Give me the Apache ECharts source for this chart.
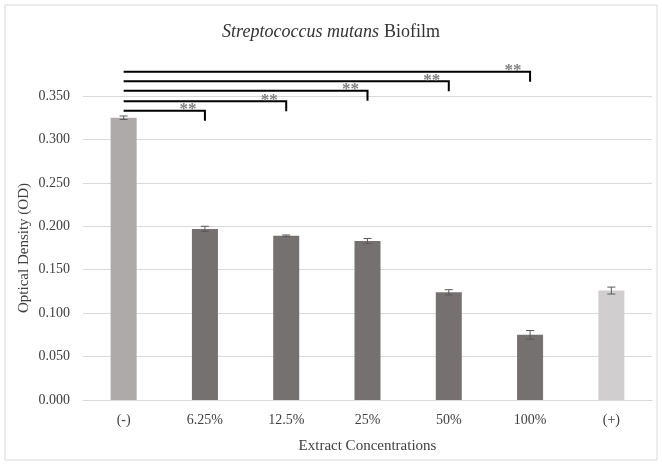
<!DOCTYPE html>
<html>
<head>
<meta charset="utf-8">
<script src="https://cdn.jsdelivr.net/npm/echarts@6/dist/echarts.min.js"></script>
<style>
  html, body { margin: 0; padding: 0; background: #fff; }
  #chart { width: 662px; height: 465px; }
</style>
</head>
<body>
<div id="chart"></div>
<script>
// data
const categories = ['(-)', '6.25%', '12.5%', '25%', '50%', '100%', '(+)'];
const odValues = [0.325, 0.197, 0.189, 0.183, 0.124, 0.075, 0.126];
const odErrors = [0.002, 0.003, 0.001, 0.003, 0.003, 0.005, 0.004];
const yTicks = [0, 0.05, 0.1, 0.15, 0.2, 0.25, 0.3, 0.35];
// significance brackets: compared category index, bracket height (OD), label
const bracketTargets = [1, 2, 3, 4, 5];
const bracketLevels = [0.333, 0.344, 0.356, 0.367, 0.378];
const bracketLabels = ['**', '**', '**', '**', '**'];

const FONT = '"Liberation Serif", "Times New Roman", serif';
const barColors = ['#AEAAAA', '#767171', '#767171', '#767171', '#767171', '#767171', '#D0CECE'];

const chart = echarts.init(document.getElementById('chart'), null, { renderer: 'canvas' });

const errorData = odValues.map((v, i) => [i, v - odErrors[i], v + odErrors[i]]);
const bracketData = bracketTargets.map((t, i) => [t, bracketLevels[i]]);

const option = {
  backgroundColor: '#fff',
  animation: false,
  title: {
    text: '{i|Streptococcus mutans} {n|Biofilm}',
    left: 'center',
    top: 18,
    textStyle: {
      fontWeight: 'normal',
      rich: {
        i: { fontFamily: FONT, fontSize: 18, fontStyle: 'italic', fontWeight: 'normal', color: '#333' },
        n: { fontFamily: FONT, fontSize: 18, fontWeight: 'normal', color: '#333' }
      }
    }
  },
  graphic: [{
    type: 'rect',
    shape: { x: 5, y: 5, width: 652, height: 455 },
    style: { fill: 'none', stroke: '#D9D9D9', lineWidth: 1 },
    silent: true
  }],
  grid: { left: 83, right: 10, top: 96, bottom: 65 },
  xAxis: {
    type: 'category',
    data: categories,
    name: 'Extract Concentrations',
    nameLocation: 'middle',
    nameGap: 39,
    nameTextStyle: { fontFamily: FONT, fontSize: 15, color: '#404040' },
    axisTick: { show: false },
    axisLine: { lineStyle: { color: '#D9D9D9', width: 1 } },
    axisLabel: { fontFamily: FONT, fontSize: 14, color: '#404040', margin: 13 }
  },
  yAxis: {
    type: 'value',
    min: 0,
    max: yTicks[yTicks.length - 1],
    interval: 0.05,
    name: 'Optical Density (OD)',
    nameLocation: 'middle',
    nameGap: 51,
    nameMoveOverlap: false,
    nameTextStyle: { fontFamily: FONT, fontSize: 15, color: '#404040' },
    axisLine: { show: false },
    axisTick: { show: false },
    axisLabel: {
      fontFamily: FONT, fontSize: 14, color: '#404040', margin: 13,
      formatter: v => v.toFixed(3)
    },
    splitLine: { lineStyle: { color: '#D9D9D9', width: 1 } }
  },
  series: [
    {
      type: 'bar',
      barWidth: 26,
      data: odValues.map((v, i) => ({ value: v, itemStyle: { color: barColors[i] } }))
    },
    {
      type: 'custom',
      data: errorData,
      z: 5,
      renderItem: (params, api) => {
        const lo = api.coord([api.value(0), api.value(1)]);
        const hi = api.coord([api.value(0), api.value(2)]);
        const cap = 4;
        const st = { stroke: '#595959', lineWidth: 1 };
        return {
          type: 'group',
          children: [
            { type: 'line', shape: { x1: lo[0], y1: lo[1], x2: hi[0], y2: hi[1] }, style: st },
            { type: 'line', shape: { x1: lo[0] - cap, y1: lo[1], x2: lo[0] + cap, y2: lo[1] }, style: st },
            { type: 'line', shape: { x1: hi[0] - cap, y1: hi[1], x2: hi[0] + cap, y2: hi[1] }, style: st }
          ]
        };
      }
    },
    {
      type: 'custom',
      data: bracketData,
      clip: false,
      z: 6,
      renderItem: (params, api) => {
        const start = api.coord([0, api.value(1)]);
        const end = api.coord([api.value(0), api.value(1)]);
        const label = bracketLabels[params.dataIndex];
        return {
          type: 'group',
          children: [
            {
              type: 'polyline',
              shape: { points: [[start[0], start[1]], [end[0], end[1]], [end[0], end[1] + 10]] },
              style: { fill: 'none', stroke: '#000', lineWidth: 2 }
            },
            {
              type: 'text',
              style: {
                text: label, x: end[0] - 17, y: end[1] - 1,
                align: 'center', verticalAlign: 'middle',
                font: 'bold 17px ' + FONT, fill: '#7F7F7F'
              }
            }
          ]
        };
      }
    }
  ]
};

chart.setOption(option);
</script>
</body>
</html>
